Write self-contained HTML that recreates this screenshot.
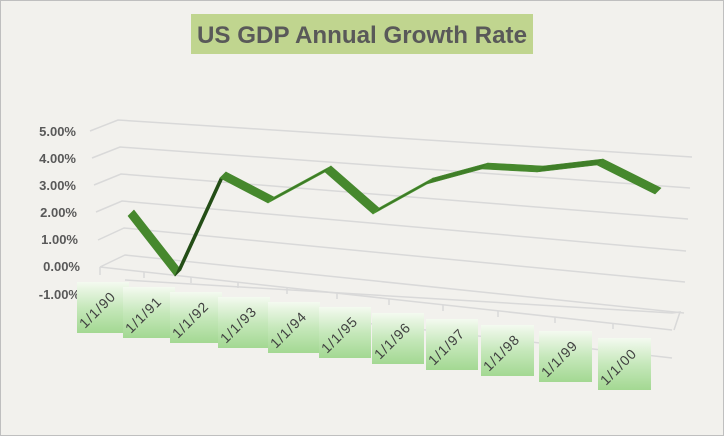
<!DOCTYPE html>
<html><head><meta charset="utf-8"><style>
html,body{margin:0;padding:0;background:#f2f1ed;}
svg{display:block;font-family:"Liberation Sans",sans-serif;}
</style></head><body>
<svg width="724" height="436" viewBox="0 0 724 436">
<defs>
<linearGradient id="lg" x1="0" y1="0" x2="0" y2="1">
<stop offset="0" stop-color="#f4faf0"/><stop offset="0.5" stop-color="#c6e8bb"/><stop offset="1" stop-color="#a3d892"/>
</linearGradient>
</defs>
<rect x="0.5" y="0.5" width="723" height="435" fill="#f2f1ed" stroke="#bfbfbf"/>
<rect x="191" y="14" width="342" height="40" fill="#c0d58f"/>
<text x="362" y="43" text-anchor="middle" font-size="24" font-weight="bold" fill="#595959" textLength="330" lengthAdjust="spacingAndGlyphs">US GDP Annual Growth Rate</text>
<g stroke="#d9d9d9" stroke-width="1.5" fill="none">
<polyline points="90,131 118,120 692,157"/>
<polyline points="92,158 120,147 690,188"/>
<polyline points="94,185 121,174 688,219"/>
<polyline points="96,212 122,201 686,251"/>
<polyline points="98,240 124,228 685,282"/>
<polyline points="100,267 125,255 684,313"/>
<polyline points="100,267 100,275"/>
<polyline points="125,280 672,313 680,312 674,330"/>
<polyline points="100,293 672,358"/>
<polyline points="100,267 672,330"/>
</g>
<g stroke="#d9d9d9" stroke-width="1.5">
<line x1="144" y1="272" x2="144" y2="278"/><line x1="191" y1="277" x2="191" y2="283"/>
<line x1="238" y1="282" x2="238" y2="288"/><line x1="287" y1="288" x2="287" y2="294"/>
<line x1="337" y1="293" x2="337" y2="299"/><line x1="389" y1="299" x2="389" y2="305"/>
<line x1="443" y1="305" x2="443" y2="311"/><line x1="498" y1="311" x2="498" y2="317"/>
<line x1="555" y1="317" x2="555" y2="323"/><line x1="613" y1="323" x2="613" y2="329"/>
</g>
<g font-size="13" font-weight="bold" fill="#595959" text-anchor="end">
<text x="76" y="136">5.00%</text><text x="76" y="163">4.00%</text>
<text x="76" y="190">3.00%</text><text x="77" y="217">2.00%</text>
<text x="78" y="244">1.00%</text><text x="80" y="271">0.00%</text>
<text x="80" y="299">-1.00%</text>
</g>
<g stroke-width="0.6" stroke-linejoin="round">
<polygon points="128,216 175,276 181,270 134,210" fill="#46882d" stroke="#46882d"/>
<polygon points="175,276 220,178 226,172 181,270" fill="#234d16" stroke="#234d16"/>
<polygon points="220,178 268,203 274,197 226,172" fill="#46882d" stroke="#46882d"/>
<polygon points="268,203 325,172 331,166 274,197" fill="#3d7a27" stroke="#4f9a33"/>
<polygon points="325,172 373,214 379,208 331,166" fill="#46882d" stroke="#46882d"/>
<polygon points="373,214 427,184 433,178 379,208" fill="#3d7a27" stroke="#4f9a33"/>
<polygon points="427,184 482,169 488,163 433,178" fill="#3f7e28" stroke="#46882d"/>
<polygon points="482,169 537,172 543,166 488,163" fill="#46882d" stroke="#46882d"/>
<polygon points="537,172 597,165 603,159 543,166" fill="#3f7e28" stroke="#46882d"/>
<polygon points="597,165 655,194 661,188 603,159" fill="#46882d" stroke="#46882d"/>
</g>
<g font-size="14" fill="#404040" letter-spacing="1">
<g transform="translate(77,282)"><rect width="52" height="51" fill="url(#lg)"/><text transform="translate(8,47) rotate(-45)">1/1/90</text></g>
<g transform="translate(123,287)"><rect width="52" height="51" fill="url(#lg)"/><text transform="translate(8,47) rotate(-45)">1/1/91</text></g>
<g transform="translate(170,292)"><rect width="52" height="51" fill="url(#lg)"/><text transform="translate(8,47) rotate(-45)">1/1/92</text></g>
<g transform="translate(218,297)"><rect width="52" height="51" fill="url(#lg)"/><text transform="translate(8,47) rotate(-45)">1/1/93</text></g>
<g transform="translate(268,302)"><rect width="52" height="51" fill="url(#lg)"/><text transform="translate(8,47) rotate(-45)">1/1/94</text></g>
<g transform="translate(319,307)"><rect width="52" height="51" fill="url(#lg)"/><text transform="translate(8,47) rotate(-45)">1/1/95</text></g>
<g transform="translate(372,313)"><rect width="52" height="51" fill="url(#lg)"/><text transform="translate(8,47) rotate(-45)">1/1/96</text></g>
<g transform="translate(426,319)"><rect width="52" height="51" fill="url(#lg)"/><text transform="translate(8,47) rotate(-45)">1/1/97</text></g>
<g transform="translate(481,325)"><rect width="53" height="51" fill="url(#lg)"/><text transform="translate(8,47) rotate(-45)">1/1/98</text></g>
<g transform="translate(539,331)"><rect width="53" height="51" fill="url(#lg)"/><text transform="translate(8,47) rotate(-45)">1/1/99</text></g>
<g transform="translate(598,338)"><rect width="53" height="52" fill="url(#lg)"/><text transform="translate(8,48) rotate(-45)">1/1/00</text></g>
</g>
</svg>
</body></html>
